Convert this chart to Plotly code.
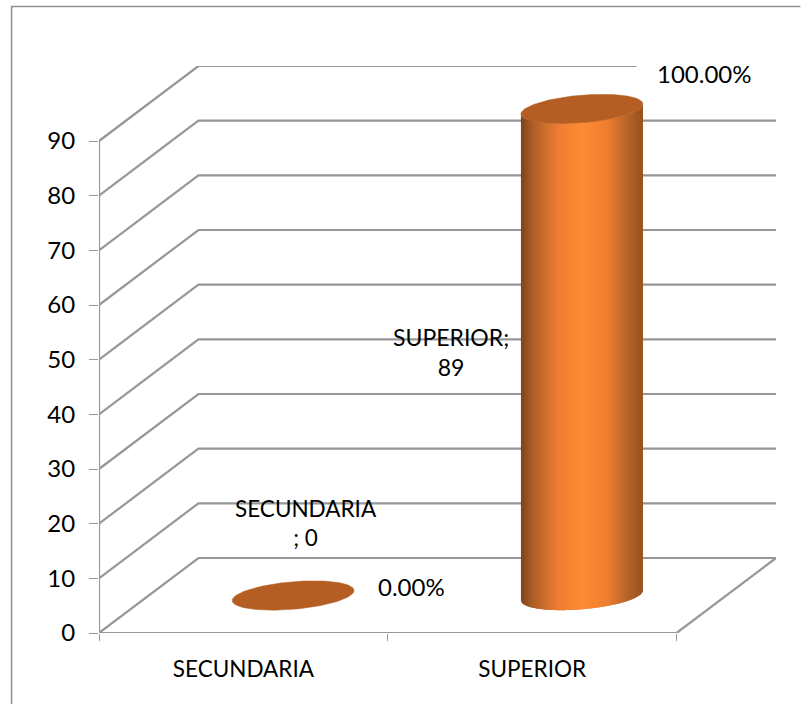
import math
import plotly.graph_objects as go

categories = ["SECUNDARIA", "SUPERIOR"]
values = [0, 89]
percent_labels = ["0.00%", "100.00%"]
y_ticks = [0, 10, 20, 30, 40, 50, 60, 70, 80, 90]

# chart geometry (pixels of the 801x704 page)
PX_LEFT, PX_FRONT_RIGHT, PX_BACK_RIGHT = 99, 677, 776.5
PX_FLOOR, PX_90, PX_BACK_TOP = 633, 141, 66
UX = (PX_FRONT_RIGHT - PX_LEFT) / 2
UY = (PX_FLOOR - PX_90) / 90
DX = (PX_BACK_RIGHT - PX_FRONT_RIGHT) / UX
DY = (PX_FLOOR - PX_BACK_TOP) / UY - 90
A = 61 / UX
B = 13.8 / UY
K = 5 / UY
GREY = "#979797"
FONT = "Lato"
TOP_COLOR = "#b55e23"
STOPS = [(0, (125, 68, 28)), (0.1, (175, 95, 40)), (0.3, (235, 125, 50)), (0.5, (255, 138, 52)),
         (0.7, (240, 128, 48)), (0.9, (175, 95, 40)), (1, (150, 82, 32))]


def data_x(px):
    return (px - PX_LEFT) / UX


def data_y(py):
    return (PX_FLOOR - py) / UY


def shade(t):
    for (t0, c0), (t1, c1) in zip(STOPS, STOPS[1:]):
        if t <= t1:
            f = (t - t0) / (t1 - t0)
            return "rgb(%d,%d,%d)" % tuple(round(a + (b - a) * f) for a, b in zip(c0, c1))
    return "rgb(%d,%d,%d)" % STOPS[-1][1]


fig = go.Figure()


def line(xs, ys, width=2.2):
    fig.add_trace(go.Scatter(x=xs, y=ys, mode="lines", line=dict(color=GREY, width=width),
                             hoverinfo="skip", showlegend=False))


for v in y_ticks:
    end = data_x(637) if v == 90 else 2 + DX
    line([0, DX, end], [v, v + DY, v + DY])
line([0, 0], [0, 90])
line([0, 2, 2 + DX], [0, 0, DY])

for i, (cat, val) in enumerate(zip(categories, values)):
    cx = i + 0.5 + DX / 2
    cy = DY / 2
    if val > 0:
        n = 80
        for s in range(n):
            t0, t1 = s / n, min(1, (s + 2) / n)
            # the angle is spaced so that strips are even in x
            xs = [cx + A * (2 * (t0 + (t1 - t0) * j / 6) - 1) for j in range(7)]
            ths = [math.acos(max(-1, min(1, (x - cx) / A))) for x in xs]
            low = [cy - B * math.sin(th) + K * math.cos(th) for th in ths]
            high = [y + val for y in low]
            color = shade((s + 0.5) / n)
            fig.add_trace(go.Scatter(x=xs + xs[::-1], y=low + high[::-1], mode="none", fill="toself",
                                     fillcolor=color, hoverinfo="skip", showlegend=False))
    ths = [2 * math.pi * j / 120 for j in range(121)]
    fig.add_trace(go.Scatter(x=[cx + A * math.cos(th) for th in ths],
                             y=[cy + val + B * math.sin(th) + K * math.cos(th) for th in ths],
                             mode="lines", fill="toself", fillcolor=TOP_COLOR,
                             line=dict(color=TOP_COLOR, width=0.5),
                             hoverinfo="skip", showlegend=False))


def label(text, px, py, size):
    fig.add_annotation(x=data_x(px), y=data_y(py), text=text, showarrow=False,
                       font=dict(family=FONT, size=size, color="#000000"), align="center")


label(percent_labels[0], 412, 586, 24)
label(percent_labels[1], 705, 73, 24)
label(f"{categories[1]};<br>{values[1]}", 451, 352, 23)
label(f"{categories[0]}<br>; {values[0]}", 306, 523, 22.5)

fig.update_layout(
    width=801, height=704, autosize=False,
    margin=dict(l=PX_LEFT, r=801 - PX_BACK_RIGHT, t=PX_BACK_TOP, b=704 - PX_FLOOR),
    paper_bgcolor="white", plot_bgcolor="white", showlegend=False,
    shapes=[dict(type="path", xref="paper", yref="paper", layer="below",
                 path="M %f %f L %f %f L %f %f" % (
                     (11.5 - PX_LEFT) / (PX_BACK_RIGHT - PX_LEFT), -71 / (PX_FLOOR - PX_BACK_TOP),
                     (11.5 - PX_LEFT) / (PX_BACK_RIGHT - PX_LEFT), 1 + 59.5 / (PX_FLOOR - PX_BACK_TOP),
                     (801 - PX_LEFT) / (PX_BACK_RIGHT - PX_LEFT), 1 + 59.5 / (PX_FLOOR - PX_BACK_TOP)),
                 line=dict(color="#8f8f8f", width=1.5))],
)
fig.update_xaxes(range=[0, 2 + DX], showgrid=False, zeroline=False, showline=False,
                 tickvals=[0.5, 1.5], ticktext=categories, ticks="", ticklabelstandoff=20,
                 tickfont=dict(family=FONT, size=22.5, color="#000000"),
                 minor=dict(tickvals=[0, 1, 2], ticks="outside", ticklen=7, tickwidth=1, tickcolor=GREY))
fig.update_yaxes(range=[0, 90 + DY], showgrid=False, zeroline=False, showline=False,
                 tickvals=y_ticks, ticks="outside", ticklen=9, tickwidth=1, tickcolor=GREY,
                 ticklabelstandoff=9,
                 tickfont=dict(family=FONT, size=24, color="#000000"))
fig.write_html("out.html", config=dict(displayModeBar=False),
               post_script="document.body.style.margin='0';document.body.style.overflow='hidden';")
